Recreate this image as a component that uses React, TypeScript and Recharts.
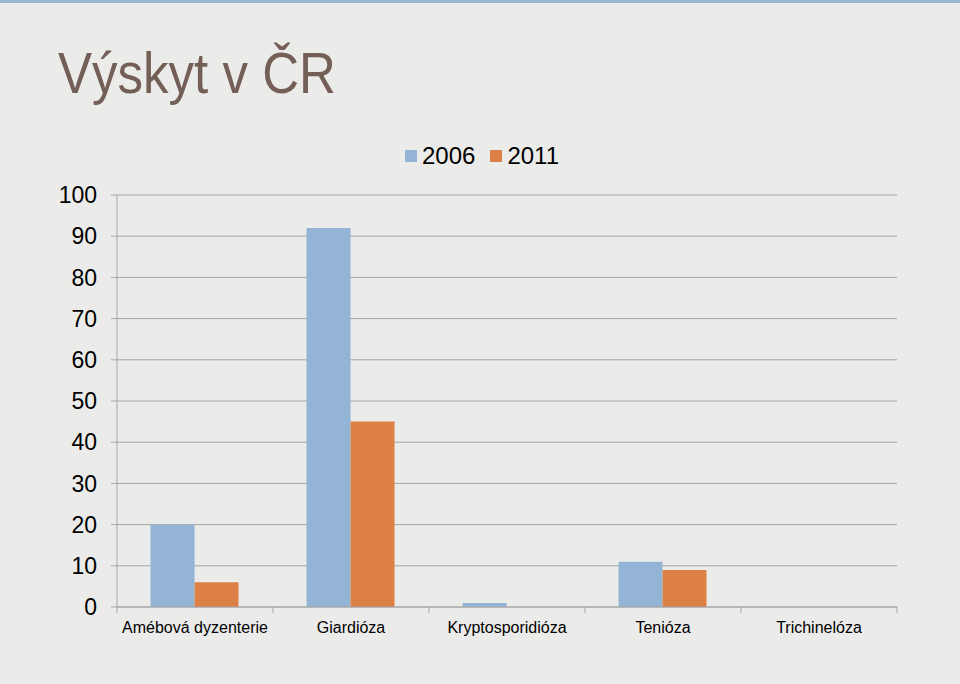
import React from "react";
import { BarChart, Bar, XAxis, YAxis, CartesianGrid } from "recharts";

const categories = ["Amébová dyzenterie", "Giardióza", "Kryptosporidióza", "Tenióza", "Trichinelóza"];
const values2006 = [20, 92, 1, 11, 0];
const values2011 = [6, 45, 0, 9, 0];
const yTicks = [0, 10, 20, 30, 40, 50, 60, 70, 80, 90, 100];
const seriesNames = ["2006", "2011"];
const colors = ["#93b4d5", "#dd8046"];

const data = categories.map((c, i) => ({ name: c, s2006: values2006[i], s2011: values2011[i] }));

const FONT = "'Liberation Sans', Arial, sans-serif";

const XTick = (props: any) => {
  const { x, y, payload, index, visibleTicksCount } = props;
  const off = payload.offset || 0;
  const isLast = index === visibleTicksCount - 1;
  return (
    <g>
      <line x1={x - off} x2={x - off} y1={y - 8} y2={y - 2} stroke="#a6a6a6" strokeWidth={1} />
      {isLast && <line x1={x + off} x2={x + off} y1={y - 8} y2={y - 2} stroke="#a6a6a6" strokeWidth={1} />}
      <text x={x} y={y + 18} textAnchor="middle" fontSize={16} fill="#000" fontFamily={FONT}>
        {payload.value}
      </text>
    </g>
  );
};

export default function App() {
  return (
    <div style={{ position: "fixed", left: 0, top: 0, width: 960, height: 684, background: "#ebebea", overflow: "hidden" }}>
      <div style={{ position: "absolute", left: 0, top: 0, width: 960, height: 3, background: "#9ab5cf" }} />
      <div
        style={{
          position: "absolute",
          left: 58,
          top: 39,
          fontFamily: FONT,
          fontSize: 58,
          color: "#745f57",
          lineHeight: "68px",
          whiteSpace: "nowrap",
          transform: "scaleX(0.88)",
          transformOrigin: "left top",
        }}
      >
        Výskyt v ČR
      </div>
      <div style={{ position: "absolute", left: 405, top: 142, display: "flex", alignItems: "center", fontFamily: FONT, fontSize: 24, color: "#000" }}>
        {seriesNames.map((n, i) => (
          <div key={n} style={{ display: "flex", alignItems: "center", marginRight: 15 }}>
            <div style={{ width: 12, height: 12, background: colors[i], marginRight: 5 }} />
            <span>{n}</span>
          </div>
        ))}
      </div>
      <BarChart
        width={960}
        height={684}
        data={data}
        margin={{ top: 195, right: 63, left: 57, bottom: 47 }}
        barCategoryGap="21.5%"
        barGap={0}
        style={{ position: "absolute", left: 0, top: 0 }}
      >
        <CartesianGrid vertical={false} stroke="#a6a6a6" strokeWidth={1} />
        <XAxis
          dataKey="name"
          height={30}
          axisLine={{ stroke: "#a6a6a6" }}
          tickLine={false}
          tick={<XTick />}
          interval={0}
        />
        <YAxis
          width={60}
          domain={[0, 100]}
          ticks={yTicks}
          interval={0}
          axisLine={{ stroke: "#a6a6a6" }}
          tickLine={{ stroke: "#a6a6a6" }}
          tickSize={6}
          tickMargin={14}
          tick={{ fontSize: 23, fill: "#000", fontFamily: FONT }}
        />
        <Bar dataKey="s2006" name={seriesNames[0]} fill={colors[0]} isAnimationActive={false} />
        <Bar dataKey="s2011" name={seriesNames[1]} fill={colors[1]} isAnimationActive={false} />
      </BarChart>
    </div>
  );
}
